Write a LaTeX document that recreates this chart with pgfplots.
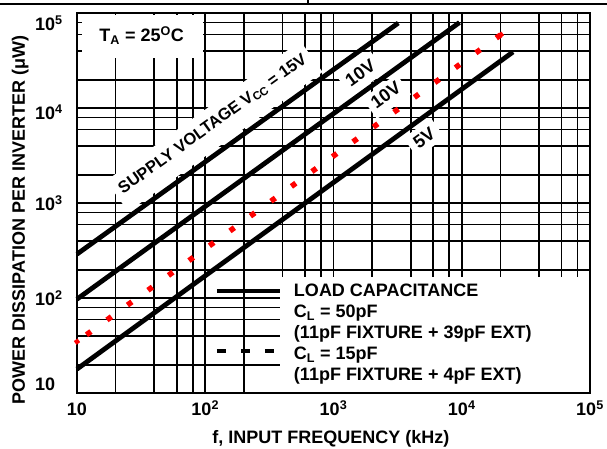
\documentclass[border=0pt]{standalone}
\usepackage{fontspec}
\setmainfont{Liberation Sans}
\usepackage{pgfplots}
\pgfplotsset{compat=1.18}
\newcommand\lbl{\fontsize{18}{21}\selectfont\bfseries}
\newcommand\slbl{\fontsize{16.5}{20}\selectfont\bfseries}

\begin{document}
\begin{tikzpicture}
\begin{axis}[
  scale only axis, width=513pt, height=380pt,
  xmode=log, ymode=log,
  xmin=10, xmax=100000, ymin=10, ymax=100000,
  clip=false,
  axis line style={line width=1.8pt},
  xtick={10,100,1000,10000,100000},
  xticklabels={10,10\textsuperscript{2},10\textsuperscript{3},10\textsuperscript{4},10\textsuperscript{5}},
  ytick={10,100,1000,10000,100000},
  yticklabels={\raisebox{10.5pt}{10},10\textsuperscript{2},10\textsuperscript{3},\raisebox{-4pt}{10\textsuperscript{4}},\raisebox{-10pt}{10\textsuperscript{5}}},
  minor xtick={20,40,60,80,200,400,600,800,2000,4000,6000,8000,20000,40000,60000,80000},
  minor ytick={20,40,60,80,200,400,600,800,2000,4000,6000,8000,20000,40000,60000,80000},
  grid=both,
  major grid style={black, line width=1.7pt},
  minor grid style={black, line width=1.7pt},
  major tick length=0pt, minor tick length=0pt,
  xticklabel style={font=\lbl, anchor=base, inner sep=0pt, yshift=-22.5pt},
  yticklabel style={font=\lbl, anchor=base west, inner sep=0pt, xshift=-42pt, yshift=-7.5pt},
  xlabel={f, INPUT FREQUENCY (kHz)},
  ylabel={POWER DISSIPATION PER INVERTER (μW)},
  every axis x label/.style={at={(axis description cs:0.495,0)}, anchor=base, yshift=-49.7pt, font=\lbl},
  every axis y label/.style={at={(axis description cs:-0.1014,0.456)}, rotate=90, anchor=base, font=\lbl},
  legend image code/.code={\draw[#1] (0pt,3.5pt) -- (63pt,3.5pt);},
  legend cell align=left,
  legend style={at={(rel axis cs:0.269,0.287)}, anchor=north west, draw=none, fill=none,
    inner sep=0pt, outer sep=0pt, row sep=0pt, column sep=12pt,
    nodes={font=\lbl, inner sep=0pt, text height=12.5pt, text depth=8.5pt}},
]
% white patches behind the legend text and the T_A note
\fill[white] ([yshift=1.2pt]rel axis cs:0.3957,0) rectangle ([xshift=-1.2pt]rel axis cs:1,0.306);
\fill[white] (rel axis cs:0.00975,0.8824) rectangle (rel axis cs:0.2456,0.9955);
\node[font=\lbl, anchor=base] at (rel axis cs:0.126,0.925) {T\textsubscript{A} = 25\textsuperscript{O}C};

% C_L = 50pF
\addplot[black, line width=4.8pt, forget plot] coordinates {(10,292) (3200,79000)}
  node[pos=0.47, sloped, anchor=south, fill=white, font=\slbl, inner xsep=6pt, inner ysep=0pt,
       outer ysep=4.5pt, text height=21pt, text depth=17pt] {SUPPLY VOLTAGE V\textsubscript{CC} = 15V};
\addplot[black, line width=4.8pt, forget plot] coordinates {(10,98) (9600,80000)}
  node[pos=0.767, sloped, anchor=south, fill=white, font=\lbl, inner xsep=5pt, inner ysep=0pt,
       outer ysep=3.25pt, text height=17.5pt, text depth=8pt] {10V};
\addplot[black, line width=4.8pt, forget plot] coordinates {(10,18) (25100,39200)}
  node[pos=0.773, sloped, anchor=north, fill=white, font=\lbl, inner xsep=6pt, inner ysep=0pt,
       outer ysep=5.25pt, text height=18pt, text depth=6pt] {5V};

% C_L = 15pF
\addplot[red, line width=5.5pt, dash pattern=on 5.5pt off 19.8pt, dash phase=13.6pt,
  mark=square*, mark size=2.1pt, mark options={solid, draw=red, fill=red, line width=0.2pt, rotate=36}, forget plot]
  coordinates {(10,35) (20200,59500)}
  node[pos=0.754, sloped, anchor=south, fill=white, text=black, font=\lbl, inner xsep=5pt, inner ysep=0pt,
       outer ysep=4.4pt, text height=17pt, text depth=8pt] {10V};

\addlegendimage{black, line width=4pt}
\addlegendentry{LOAD CAPACITANCE}
\addlegendimage{empty legend}
\addlegendentry{C\textsubscript{L} = 50pF}
\addlegendimage{empty legend}
\addlegendentry{(11pF FIXTURE + 39pF EXT)}
\addlegendimage{black, line width=4pt, dash pattern=on 9pt off 15pt, yshift=3pt}
\addlegendentry{C\textsubscript{L} = 15pF}
\addlegendimage{empty legend}
\addlegendentry{(11pF FIXTURE + 4pF EXT)}

% page rule above the chart
\draw[line width=1.2pt] (rel axis cs:-0.16,1.0245) -- (rel axis cs:1.05,1.0245);
\draw[line width=1.2pt] (rel axis cs:0.4503,1.0245) -- (rel axis cs:0.4503,1.04);
\end{axis}
\pgfresetboundingbox
\path[use as bounding box] ([shift={(-77pt,-54.7pt)}]current axis.south west)
  rectangle ([shift={(17pt,13.3pt)}]current axis.north east);
\end{tikzpicture}
\end{document}
